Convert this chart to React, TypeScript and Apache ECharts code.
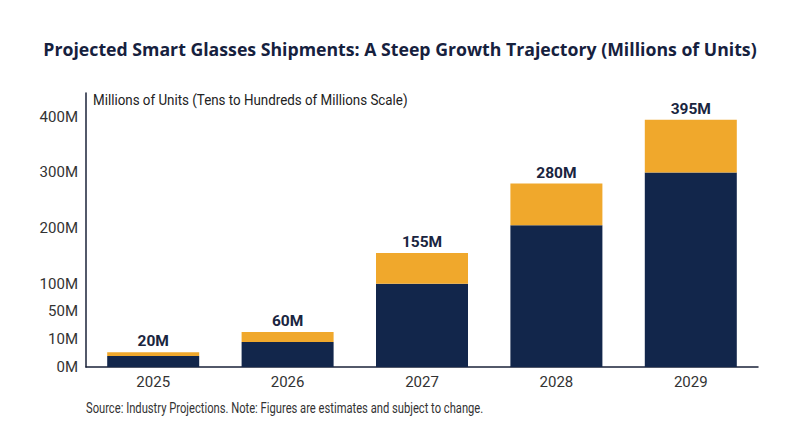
import { useEffect, useRef } from "react";
import * as echarts from "echarts";

// categories
const years = ["2025", "2026", "2027", "2028", "2029"];
// stacked segments in millions of units
const baseShipments = [4, 9, 100, 205, 300];
const addedShipments = [1.3, 11.5, 55, 75, 95];
// total labels printed above each bar
const totalLabels = ["20M", "60M", "155M", "280M", "395M"];

// the y axis is non-linear: each tick value sits at its own step position
const tickValuesM = [0, 10, 50, 100, 200, 300, 400];
const tickSteps = [0, 1, 2, 3, 5, 7, 9];
const tickLabels = ["0M", "10M", "50M", "100M", "200M", "300M", "400M"];

const NAVY = "#12264b";
const ORANGE = "#f0a82c";
const TEXT = "#333333";

// map millions onto the piecewise axis
function toStep(m: number): number {
  for (let i = 1; i < tickValuesM.length; i++) {
    if (m <= tickValuesM[i]) {
      const t = (m - tickValuesM[i - 1]) / (tickValuesM[i] - tickValuesM[i - 1]);
      return tickSteps[i - 1] + t * (tickSteps[i] - tickSteps[i - 1]);
    }
  }
  return tickSteps[tickSteps.length - 1];
}

export default function App() {
  const ref = useRef<HTMLDivElement>(null);

  useEffect(() => {
    if (!ref.current) return;
    const chart = echarts.init(ref.current, undefined, { renderer: "svg" });

    const baseSteps = baseShipments.map((v) => toStep(v));
    const addSteps = baseShipments.map((v, i) => toStep(v + addedShipments[i]) - toStep(v));

    chart.setOption({
      animation: false,
      backgroundColor: "#ffffff",
      title: {
        text: "Projected Smart Glasses Shipments: A Steep Growth Trajectory (Millions of Units)",
        left: "center",
        top: 35,
        textStyle: {
          fontFamily: "Open Sans",
          fontWeight: "bold",
          fontSize: 17.7,
          color: "#16213e",
        },
      },
      graphic: [
        {
          type: "text",
          x: 93,
          y: 100,
          scaleX: 0.955,
          style: {
            text: "Millions of Units (Tens to Hundreds of Millions Scale)",
            font: "14px Roboto",
            fill: "#222222",
            verticalAlign: "middle",
          },
        },
        {
          type: "text",
          x: 86,
          y: 408,
          scaleX: 0.8,
          style: {
            text: "Source: Industry Projections. Note: Figures are estimates and subject to change.",
            font: "14px Roboto",
            fill: TEXT,
            verticalAlign: "middle",
          },
        },
      ],
      grid: { left: 86, right: 42, top: 93, bottom: 80 },
      xAxis: {
        type: "category",
        data: years,
        axisLine: { lineStyle: { color: "#1a2238", width: 1.5 } },
        axisTick: { show: false },
        axisLabel: { color: TEXT, fontFamily: "Roboto", fontSize: 15, margin: 7 },
      },
      yAxis: {
        type: "value",
        min: 0,
        max: 9.86,
        interval: 1,
        splitLine: { show: false },
        axisTick: { show: false },
        axisLine: { show: true, lineStyle: { color: "#1a2238", width: 1.5 } },
        axisLabel: {
          color: TEXT,
          fontFamily: "Roboto",
          fontSize: 15,
          margin: 8,
          formatter: (v: number) => {
            const idx = tickSteps.findIndex((s) => Math.abs(s - v) < 1e-6);
            return idx >= 0 ? tickLabels[idx] : "";
          },
        },
      },
      series: [
        {
          name: "Base",
          type: "bar",
          stack: "total",
          barWidth: 92,
          data: baseSteps,
          itemStyle: { color: NAVY },
        },
        {
          name: "Growth",
          type: "bar",
          stack: "total",
          barWidth: 92,
          data: addSteps,
          itemStyle: { color: ORANGE },
          label: {
            show: true,
            position: "top",
            distance: 3,
            formatter: (p: any) => totalLabels[p.dataIndex],
            fontFamily: "Roboto",
            fontWeight: "bold",
            fontSize: 15.5,
            color: "#1a2540",
          },
        },
      ],
    });

    return () => chart.dispose();
  }, []);

  return (
    <div
      ref={ref}
      style={{ position: "absolute", left: 0, top: 0, width: 800, height: 447 }}
    />
  );
}
